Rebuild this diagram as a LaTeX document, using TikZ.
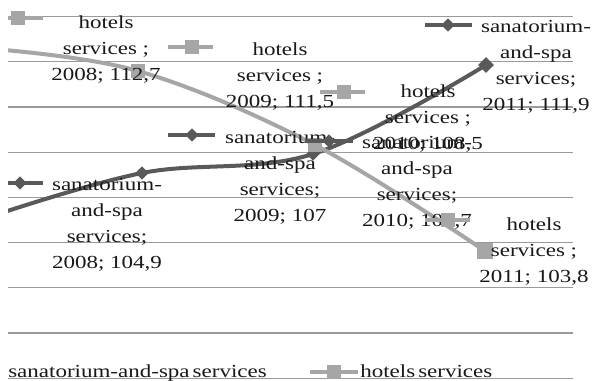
\documentclass[tikz,border=0pt]{standalone}
\usepackage{fontspec}
\setmainfont[FakeStretch=1.25]{Liberation Serif}
\usetikzlibrary{shapes.geometric}
\definecolor{darkser}{HTML}{595959}
\definecolor{lightser}{HTML}{A6A6A6}
\definecolor{gridc}{HTML}{9A9A9A}
\newcommand\lbltext[1]{\vtop{\halign{\hfil##\hfil\cr#1\crcr}}}
\begin{document}
\begin{tikzpicture}[x=0.75pt,y=-0.75pt,
  gridln/.style={draw=gridc,line width=0.9pt},
  darkln/.style={draw=darkser,line width=3pt},
  lightln/.style={draw=lightser,line width=3pt},
  dmark/.style={diamond,fill=darkser,inner sep=0pt,minimum width=10pt,minimum height=10pt},
  smark/.style={rectangle,fill=lightser,inner sep=0pt,minimum size=10pt},
  lbl/.style={anchor=base,inner sep=0pt,font=\fontsize{13.8}{19.7}\selectfont,text=black!90},
  leg/.style={anchor=base west,inner sep=0pt,font=\fontsize{13.8}{19.7}\selectfont,text=black!90},
]
\useasboundingbox (0,0) rectangle (593,380);
\fill[white] (0,0) rectangle (593,380);
% grid lines
\foreach \gy [count=\i] in {16.5,61.7,106.9,152.1,197.3,242.5,287.7,332.9,378.1}{
  \coordinate (gl\i) at (8,\gy);
  \coordinate (gr\i) at (573,\gy);
  \draw[gridln] (gl\i) -- (gr\i);
}
\begin{scope}
\clip (8,0) rectangle (600,380);
% series lines
\coordinate (h0) at (-20,48);
\coordinate (h1) at (138,71);
\coordinate (h2) at (315,145);
\coordinate (h3) at (485,251);
\coordinate (s0) at (-20,220);
\coordinate (s1) at (142,173);
\coordinate (s2) at (313,154);
\coordinate (s3) at (486,65);
\draw[darkln] plot[smooth,tension=0.6] coordinates {(s0) (s1) (s2) (s3)};
\draw[lightln] plot[smooth,tension=0.6] coordinates {(h0) (h1) (h2) (h3)};
% data markers
\node[dmark] (sm1) at (s1) {};
\node[dmark] (sm2) at (s2) {};
\node[dmark,minimum width=12pt,minimum height=12pt] (sm3) at (s3) {};
\node[smark] (hm1) at (h1) {};
\node[smark] (hm2) at (h2) {};
\node[smark,minimum size=12pt] (hm3) at (h3) {};
% data labels
\node[lbl] (lh1) at (106,28) {\lbltext{hotels\cr services ;\cr 2008; 112,7}};
\node[lbl] (lh2) at (280,55) {\lbltext{hotels\cr services ;\cr 2009; 111,5}};
\node[lbl] (ls3) at (417,148) {\lbltext{sanatorium-\cr and-spa\cr services;\cr 2010; 109,7}};
\node[lbl] (lh3) at (428,97) {\lbltext{hotels\cr services ;\cr 2010; 108,5}};
\node[lbl] (lh4) at (534,230) {\lbltext{hotels\cr services ;\cr 2011; 103,8}};
\node[lbl] (ls1) at (107,190) {\lbltext{sanatorium-\cr and-spa\cr services;\cr 2008; 104,9}};
\node[lbl] (ls2) at (280,143) {\lbltext{sanatorium-\cr and-spa\cr services;\cr 2009; 107}};
\node[lbl] (ls4) at (536,32) {\lbltext{sanatorium-\cr and-spa\cr services;\cr 2011; 111,9}};
% legend keys of labels
\foreach \nm/\xa/\xb/\yy/\xm in {kh1/-7/43/18/18, kh2/168/213/47/192, kh3/320/365/92/344, kh4/425/470/220/448}{
  \coordinate (\nm a) at (\xa,\yy);
  \coordinate (\nm b) at (\xb,\yy);
  \draw[lightln] (\nm a) -- (\nm b);
  \node[smark] (\nm m) at (\xm,\yy) {};
}
\foreach \nm/\xa/\xb/\yy/\xm in {ks1/-4/43/183/20, ks2/168/215/135/192, ks3/305/353/141/329, ks4/425/472/25/448}{
  \coordinate (\nm a) at (\xa,\yy);
  \coordinate (\nm b) at (\xb,\yy);
  \draw[darkln] (\nm a) -- (\nm b);
  \node[dmark] (\nm m) at (\xm,\yy) {};
}
\end{scope}
% legend
\node[leg] (leg1) at (8,377) {sanatorium-and-spa\,services};
\coordinate (lk1) at (310,372);
\coordinate (lk2) at (358,372);
\draw[lightln] (lk1) -- (lk2);
\node[smark] (lkm) at (334,372) {};
\node[leg] (leg2) at (360,377) {hotels\,services};
\end{tikzpicture}
\end{document}
